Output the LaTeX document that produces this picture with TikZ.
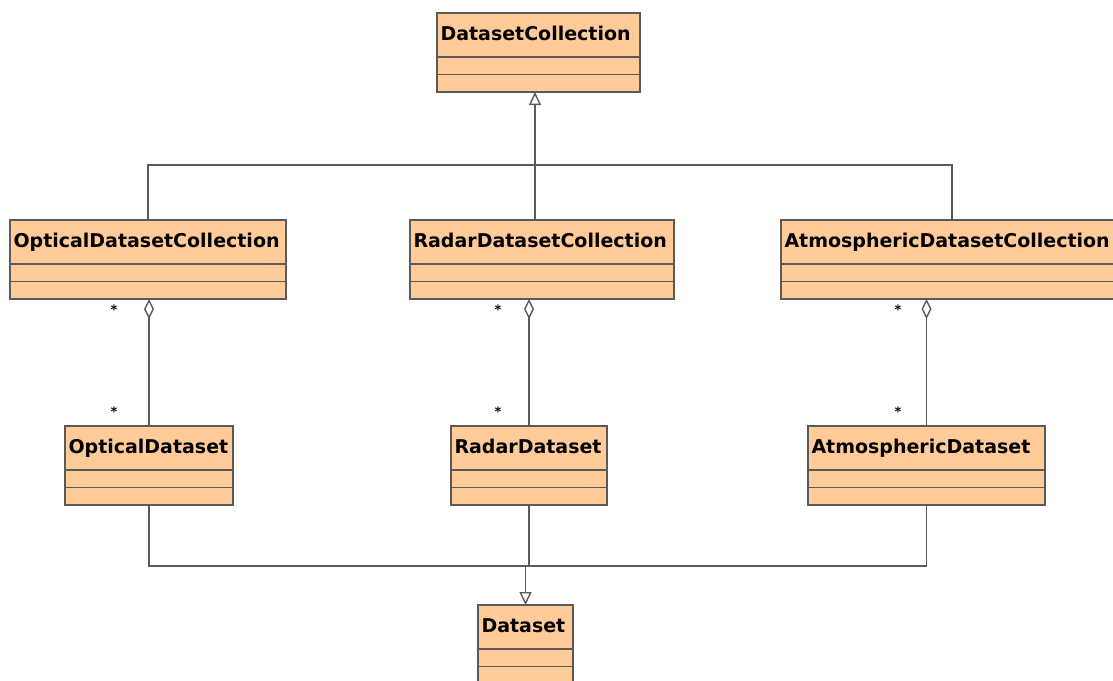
\documentclass[tikz,border=0pt]{standalone}
\usepackage{fontspec}
\setmainfont{DejaVu Sans}
\usetikzlibrary{positioning,arrows.meta}
\definecolor{peach}{RGB}{255,204,153}
\definecolor{umlgray}{RGB}{90,90,90}
\begin{document}
\begin{tikzpicture}[x=1pt,y=-1pt,
	classnode/.style={rectangle,draw=umlgray,fill=peach,line width=1.4pt,anchor=north west,outer sep=0pt,inner xsep=3.5pt,inner ysep=0pt,minimum height=44pt,text height=14pt,text depth=4pt,align=left,font=\bfseries\fontsize{19}{21}\selectfont},
	partnode/.style={rectangle,draw=umlgray,fill=peach,line width=1.4pt,outer sep=0pt,inner sep=0pt,minimum height=17.5pt},
	multnode/.style={inner sep=0pt,font=\bfseries\fontsize{13}{14}\selectfont},
	line/.style={draw=umlgray,line width=1.4pt},
	gen/.style={line,-{Triangle[open,width=12pt,length=13pt]}},
	agg/.style={line,{Diamond[open,width=10pt,length=20pt]}-}
]
\useasboundingbox (0,0) rectangle (1113,680);

% Klassen
\node[classnode,text width=196pt] (coll) at (437,13) {DatasetCollection};
\node[partnode,minimum width=203pt,below=0pt of coll] (coll-a) {};
\node[partnode,minimum width=203pt,below=0pt of coll-a] (coll-b) {};

\node[classnode,text width=269pt] (optcoll) at (10,220) {OpticalDatasetCollection};
\node[partnode,minimum width=276pt,below=0pt of optcoll] (optcoll-a) {};
\node[partnode,minimum width=276pt,below=0pt of optcoll-a] (optcoll-b) {};

\node[classnode,text width=257pt] (radcoll) at (410,220) {RadarDatasetCollection};
\node[partnode,minimum width=264pt,below=0pt of radcoll] (radcoll-a) {};
\node[partnode,minimum width=264pt,below=0pt of radcoll-a] (radcoll-b) {};

\node[classnode,text width=335pt] (atmcoll) at (781,220) {AtmosphericDatasetCollection};
\node[partnode,minimum width=342pt,below=0pt of atmcoll] (atmcoll-a) {};
\node[partnode,minimum width=342pt,below=0pt of atmcoll-a] (atmcoll-b) {};

\node[classnode,text width=161pt] (optset) at (65,426) {OpticalDataset};
\node[partnode,minimum width=168pt,below=0pt of optset] (optset-a) {};
\node[partnode,minimum width=168pt,below=0pt of optset-a] (optset-b) {};

\node[classnode,text width=149pt] (radset) at (451,426) {RadarDataset};
\node[partnode,minimum width=156pt,below=0pt of radset] (radset-a) {};
\node[partnode,minimum width=156pt,below=0pt of radset-a] (radset-b) {};

\node[classnode,text width=230pt] (atmset) at (808,426) {AtmosphericDataset};
\node[partnode,minimum width=237pt,below=0pt of atmset] (atmset-a) {};
\node[partnode,minimum width=237pt,below=0pt of atmset-a] (atmset-b) {};

\node[classnode,text width=88pt] (ds) at (478,605) {Dataset};
\node[partnode,minimum width=95pt,below=0pt of ds] (ds-a) {};
\node[partnode,minimum width=95pt,below=0pt of ds-a] (ds-b) {};

% Vererbung
\coordinate (bus) at (535,165);
\coordinate (bus2) at (525.5,566);
\draw[line] (optcoll.north) |- (bus) -| (atmcoll.north);
\draw[gen] (bus |- radcoll.north) -- (bus |- coll-b.south);
\draw[line] (optset-b.south) |- (bus2) -| (atmset-b.south);
\draw[line] (radset-b.south) -- (radset-b.south |- bus2);
\draw[gen] (bus2) -- (ds.north);

% Aggregation
\draw[agg] (optcoll-b.south -| optset.north) -- (optset.north);
\draw[agg] (radcoll-b.south -| radset.north) -- (radset.north);
\draw[agg] (atmcoll-b.south -| atmset.north) -- (atmset.north);

% Multiplizitaeten
\node[multnode] (m1) at (114,310) {*};
\node[multnode] (m2) at (114,412) {*};
\node[multnode] (m3) at (498,310) {*};
\node[multnode] (m4) at (498,412) {*};
\node[multnode] (m5) at (898,310) {*};
\node[multnode] (m6) at (898,412) {*};

\end{tikzpicture}
\end{document}
